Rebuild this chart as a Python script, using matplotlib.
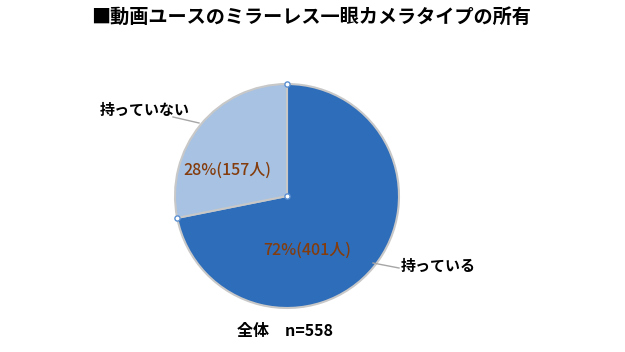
import matplotlib
matplotlib.use("Agg")
import matplotlib.pyplot as plt
import numpy as np

plt.rcParams['font.family'] = ['Noto Sans CJK JP', 'DejaVu Sans']

title = "■動画ユースのミラーレス一眼カメラタイプの所有"
categories = ["持っている", "持っていない"]
counts = [401, 157]
percents = [72, 28]
colors = ["#2E6DB9", "#A7C2E2"]
footer = "全体　n=558"

W, H = 625, 352
fig = plt.figure(figsize=(W / 100, H / 100), dpi=100)
ax = fig.add_axes([0, 0, 1, 1])

cx, cy, r = 287, H - 196, 112
wedges, _ = ax.pie(counts, colors=colors, startangle=90, counterclock=False,
                   center=(cx, cy), radius=r, frame=True,
                   wedgeprops=dict(edgecolor="#C8C8C8", linewidth=1.5))
ax.set_xlim(0, W)
ax.set_ylim(0, H)
ax.set_aspect('equal')
ax.axis('off')

# selection handles at wedge vertices
total = sum(counts)
ang = [90, 90 - 360 * counts[0] / total]
hx = [cx] + [cx + r * np.cos(np.radians(a)) for a in ang]
hy = [cy] + [cy + r * np.sin(np.radians(a)) for a in ang]
ax.scatter(hx, hy, s=14, facecolor="white", edgecolor="#5B8FD0", linewidth=1, zorder=5)

# data labels
lab_pos = [(307, H - 250), (227, H - 170)]
for (x, y), p, c in zip(lab_pos, percents, counts):
    ax.text(x, y, f"{p}%({c}人)", ha='center', va='center', fontsize=11.5,
            color="#843C0C", fontweight='medium')

# category labels with leader lines
ax.text(401, H - 266, categories[0], ha='left', va='center', fontsize=10.8, fontweight='bold')
ax.plot([373, 399], [H - 263, H - 268], color="#A6A6A6", lw=1)
ax.text(145, H - 110, categories[1], ha='center', va='center', fontsize=10.8, fontweight='bold')
ax.plot([173, 199], [H - 117, H - 123], color="#A6A6A6", lw=1)

fig.text(311 / W, 1 - 17 / H, title, ha='center', va='center', fontsize=13.8, fontweight='bold')
fig.text(237 / W, 1 - 331 / H, footer, ha='left', va='center', fontsize=11.5, fontweight='bold')

fig.savefig("out.png", dpi=100)
